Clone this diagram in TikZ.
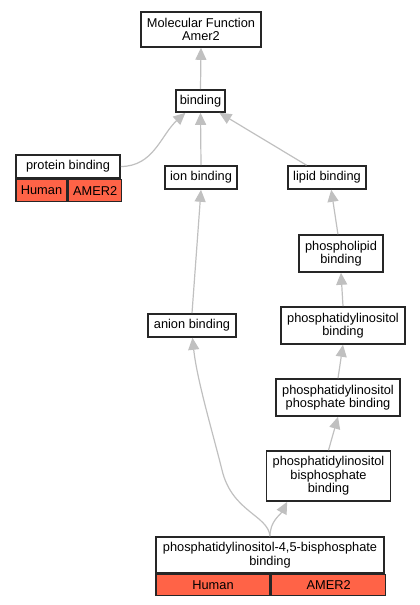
\documentclass[tikz,border=0pt]{standalone}
\usepackage{fontspec}
\setmainfont{Liberation Sans}
\usetikzlibrary{arrows.meta,positioning}
\definecolor{edgegray}{HTML}{C0C0C0}
\definecolor{genefill}{HTML}{FF6347}
\definecolor{boxline}{HTML}{262626}

\begin{document}
\begin{tikzpicture}[x=1pt,y=-1pt,
  term/.style={draw=boxline,line width=1.6pt,fill=white,align=center,inner sep=0pt,
    font=\fontsize{12.8}{13.5}\selectfont},
  cell/.style={term,fill=genefill,anchor=north west},
  isa/.style={draw=edgegray,line width=1.2pt,-{Triangle[length=12pt,width=11pt]}}]
\useasboundingbox (0,0) rectangle (420,605);

% Terms
\node[term,minimum width=120,minimum height=35] (mf) at (201,29.5) {Molecular Function\\Amer2};
\node[term,minimum width=49,minimum height=22] (bind) at (200.5,101) {binding};
\node[term,minimum width=72,minimum height=23] (ion) at (201,177.5) {ion binding};
\node[term,minimum width=78,minimum height=23] (lipid) at (327,177.5) {lipid binding};
\node[term,minimum width=84,minimum height=37] (phl) at (341,253.5) {phospholipid\\binding};
\node[term,minimum width=124,minimum height=37] (pi) at (343,325.5) {phosphatidylinositol\\binding};
\node[term,minimum width=88,minimum height=23] (anion) at (192,325.5) {anion binding};
\node[term,minimum width=124,minimum height=37] (pip) at (338,397.5) {phosphatidylinositol\\phosphate binding};
\node[term,minimum width=124,minimum height=50] (bis) at (328.5,476) {phosphatidylinositol\\bisphosphate\\binding};

% Annotated terms
\node[term,minimum width=104,minimum height=23] (prot) at (68,166.5) {protein binding};
\node[cell,minimum width=51,minimum height=22] (protHs) at (prot.south west) {Human};
\node[cell,minimum width=53,minimum height=22] (protGene) at (protHs.north east) {AMER2};

\node[term,minimum width=228,minimum height=36] (pip2) at (270,555) {phosphatidylinositol-4,5-bisphosphate\\binding};
\node[cell,minimum width=114,minimum height=21] (pip2Hs) at (pip2.south west) {Human};
\node[cell,minimum width=114,minimum height=21] (pip2Gene) at (pip2Hs.north east) {AMER2};

% is_a edges
\draw[isa] (bind.north) -- (mf.south);
\draw[isa] (prot.east) to[out=0,in=-138] (bind.-142);
\draw[isa] (ion.north) -- (bind.south);
\draw[isa] (lipid.149) -- (bind.-32);
\draw[isa] (anion.north) -- (ion.south);
\draw[isa] (phl.99) -- (lipid.-71);
\draw[isa] (pi.north) -- (phl.south);
\draw[isa] (pip.north) -- (pi.south);
\draw[isa] (bis.north) -- (pip.south);
\draw[isa] (pip2.north) to[out=90,in=-118] (bis.-148);
\draw[isa] (pip2.north) .. controls (268,515) and (232,512) .. (222,470)
  .. controls (212,430) and (197,380) .. (anion.-88);

\end{tikzpicture}
\end{document}
